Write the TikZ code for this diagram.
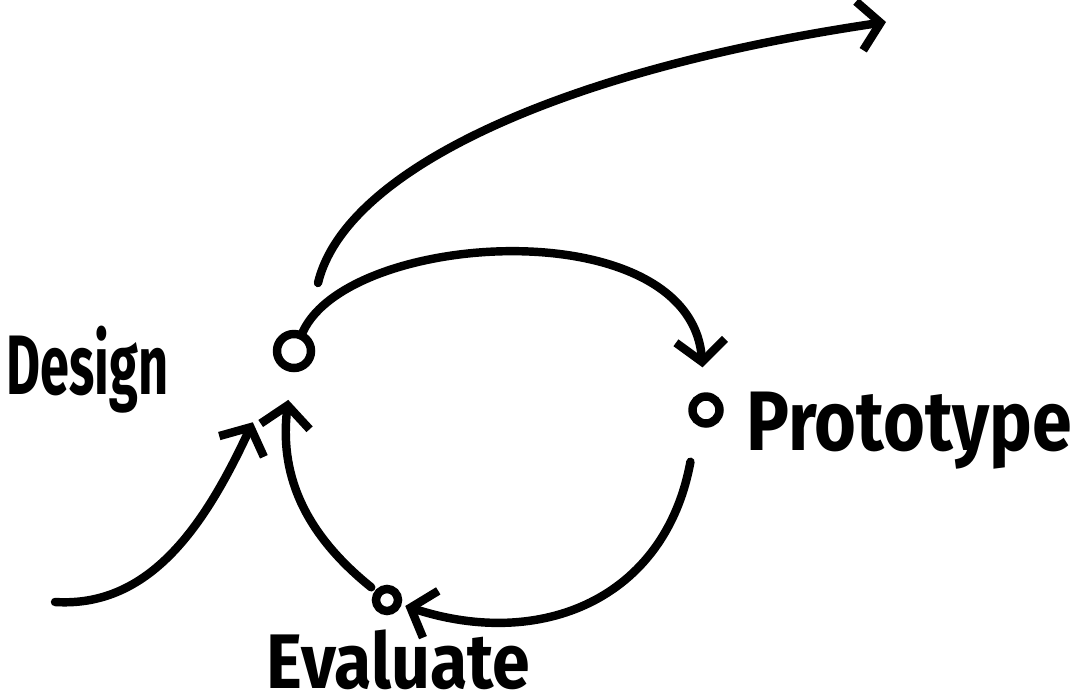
\documentclass[tikz,border=0pt]{standalone}
\usepackage{fontspec}
\newfontfamily\handfont{Fira Sans}
\usetikzlibrary{arrows.meta}

\begin{document}
\begin{tikzpicture}[x=0.01cm, y=-0.01cm,
  flow/.style={line width=2.4pt, line cap=round, -{Straight Barb[length=6pt, width=14pt]}},
  dot/.style={circle, draw, line width=2.4pt, inner sep=0pt},
  steplabel/.style n args={2}{anchor=base west, inner sep=0pt,
    font=\handfont\bfseries\fontsize{#2}{#2}\selectfont\addfontfeature{FakeStretch=#1}}]

\useasboundingbox (0,0) rectangle (1072,700);

% the three stages
\node[dot, minimum size=0.34cm] (design) at (294,351) {};
\node[dot, minimum size=0.27cm] (proto) at (706,410) {};
\node[dot, minimum size=0.22cm] (evalu) at (387,600) {};

\node[steplabel={0.62}{24}] (designlbl) at (6,394) {Design};
\node[steplabel={0.85}{24}] (protolbl) at (746,450) {Prototype};
\node[steplabel={0.88}{22}] (evalulbl) at (266,688) {Evaluate};

% loose ends
\coordinate (entry) at (55,602);
\coordinate (exitstart) at (318,283);
\coordinate (exit) at (886,22);

% the cycle
\draw[flow, shorten >=0.25cm] (design) .. controls (350,230) and (690,210) .. (proto);
\draw[flow, shorten <=0.37cm, shorten >=0.04cm] (proto.240) .. controls (665,600) and (540,650) .. (evalu);
\draw[flow, shorten <=0.05cm, shorten >=0.28cm] (evalu) .. controls (300,530) and (280,470) .. (design);

% in and out
\draw[flow, shorten >=0.62cm] (entry) .. controls (150,608) and (205,525) .. (design.225);
\draw[flow] (exitstart) .. controls (345,170) and (560,70) .. (exit);

\end{tikzpicture}
\end{document}
